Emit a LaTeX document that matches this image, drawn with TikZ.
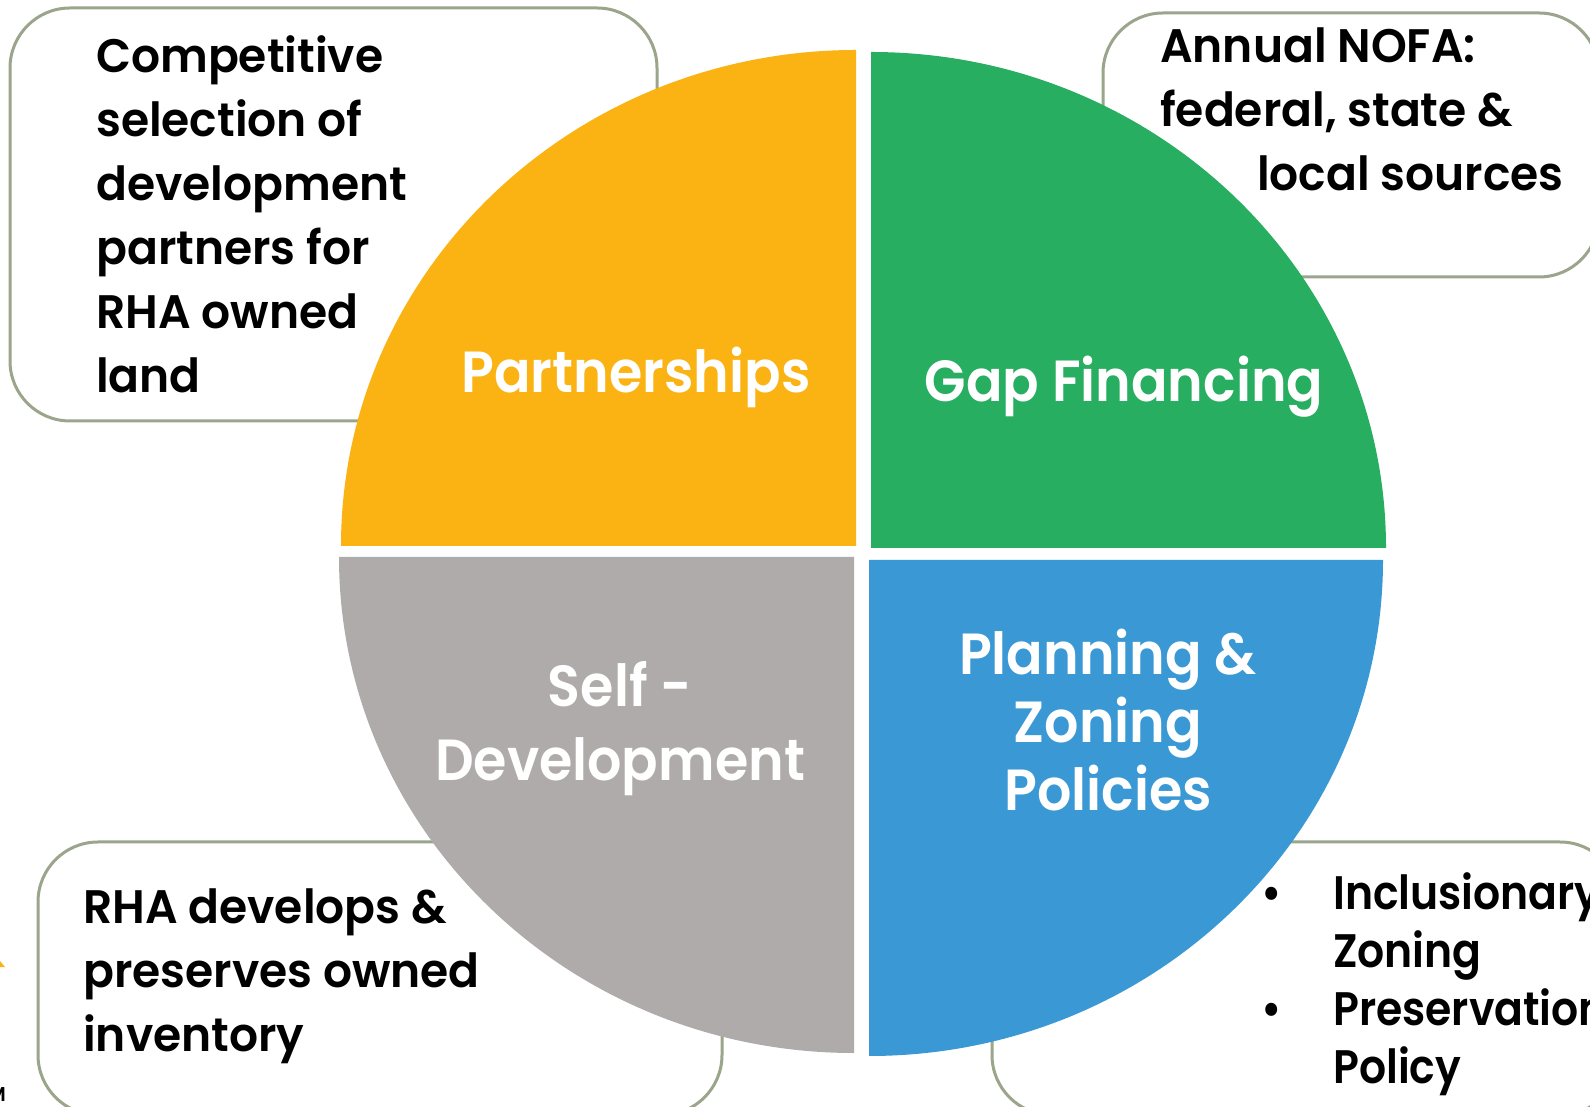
\documentclass[tikz,border=0pt]{standalone}
\usepackage{fontspec}
\setmainfont{Poppins}
\newfontfamily\boxfont{Poppins SemiBold}[FakeStretch=0.97]
\newfontfamily\listfont{Poppins SemiBold}[FakeStretch=0.905]
\newfontfamily\labelfont{Poppins SemiBold}[FakeStretch=0.93]
\definecolor{partnerorange}{HTML}{FBB314}
\definecolor{gapgreen}{HTML}{27AE60}
\definecolor{selfgray}{HTML}{AFABAA}
\definecolor{planblue}{HTML}{3A98D4}
\definecolor{boxline}{HTML}{9BA58B}
\begin{document}
\begin{tikzpicture}[x=1pt,y=1pt,
  infobox/.style={draw=boxline, line width=3pt, fill=white, rounded corners=60pt, inner sep=0pt},
  boxtext/.style={inner sep=0pt, anchor=base west, align=left, text=black,
    font=\boxfont\fontsize{47}{64}\selectfont},
  sectorlabel/.style={inner sep=0pt, anchor=base, align=center, text=white,
    font=\labelfont\fontsize{58}{70}\selectfont}]
\useasboundingbox (0,0) rectangle (1590,1106);
\clip (0,0) rectangle (1590,1106);
\fill[white] (0,0) rectangle (1590,1106);

% rounded info boxes behind the pie
\node[infobox, minimum width=647pt, minimum height=413pt] (boxtl) at (333.5,891.5) {};
\node[infobox, minimum width=496pt, minimum height=264pt] (boxtr) at (1351,961) {};
\node[infobox, minimum width=684pt, minimum height=273pt] (boxbl) at (380,127.5) {};
\node[infobox, minimum width=628pt, minimum height=273pt] (boxbr) at (1306,127.5) {};

% four quarters of the pie
\fill[partnerorange] (856,560) -- (341,560)
  arc[start angle=180, end angle=90, x radius=515, y radius=496] -- cycle;
\fill[gapgreen] (871,558) -- (1386,558)
  arc[start angle=0, end angle=90, x radius=515, y radius=496] -- cycle;
\fill[selfgray] (854,549) -- (339,549)
  arc[start angle=180, end angle=270, x radius=515, y radius=496] -- cycle;
\fill[planblue] (869,546) -- (869,50)
  arc[start angle=270, end angle=360, x radius=514, y radius=496] -- cycle;

% quarter labels (anchored at the baseline of the last line)
\node[sectorlabel] (partners) at (636,713) {Partnerships};
\node[sectorlabel] (gap) at (1124,704) {Gap Financing};
\node[sectorlabel, font=\labelfont\fontsize{58}{74}\selectfont] (selfdevlabel) at (620,325) {Self -\\Development};
\node[sectorlabel, font=\labelfont\fontsize{58}{68}\selectfont] (planning) at (1108,295) {Planning \&\\Zoning\\Policies};

% box texts (anchored at the baseline of the last line)
\node[boxtext] (compsel) at (96,713) {Competitive\\selection of\\development\\partners for\\RHA owned\\land};
\node[boxtext] (nofa) at (1160,915) {Annual NOFA:\\federal, state \&\\\hspace*{97pt}local sources};
\node[boxtext] (selfdev) at (83,55) {RHA develops \&\\preserves owned\\inventory};
\node[boxtext, font=\listfont\fontsize{47}{58}\selectfont] (zoning) at (1261,23)
  {\makebox[72pt][l]{\textbullet}Inclusionary\\\hspace*{72pt}Zoning\\\makebox[72pt][l]{\textbullet}Preservation\\\hspace*{72pt}Policy};

% cut-off marks at the left edge
\fill[partnerorange] (0,145) -- (5,139) -- (0,139) -- cycle;
\node[inner sep=0pt, anchor=base east, font=\boxfont\fontsize{20}{24}\selectfont] (edgemark) at (6,5) {M};
\end{tikzpicture}
\end{document}
